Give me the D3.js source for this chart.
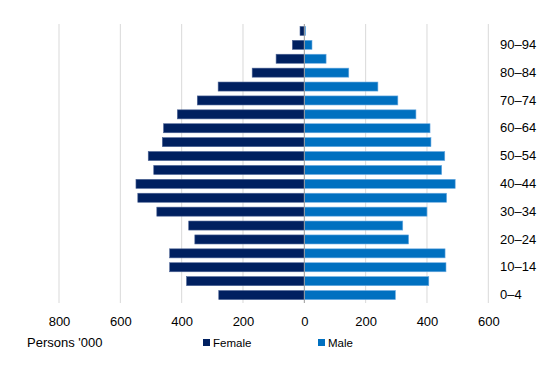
<!DOCTYPE html>
<html>
<head>
<meta charset="utf-8">
<script src="https://cdn.jsdelivr.net/npm/d3@7"></script>
<style>
	body { margin: 0; background: #fff; }
	svg { display: block; font-family: "Liberation Sans", Arial, sans-serif; }
</style>
</head>
<body>
<svg width="550" height="378"></svg>
<script>
const ages = ['0–4', '5–9', '10–14', '15–19', '20–24', '25–29', '30–34', '35–39', '40–44', '45–49',
	'50–54', '55–59', '60–64', '65–69', '70–74', '75–79', '80–84', '85–89', '90–94', '95+'];
const female = [279, 384, 439, 439, 357, 377, 481, 543, 549, 491,
	509, 463, 459, 414, 349, 281, 170, 92, 39, 14];
const male = [297, 406, 462, 459, 340, 321, 400, 464, 492, 448,
	458, 413, 410, 364, 305, 240, 145, 71, 25, 4];
const ageLabels = ['0–4', '10–14', '20–24', '30–34', '40–44', '50–54', '60–64', '70–74', '80–84', '90–94'];
const xTicks = [-800, -600, -400, -200, 0, 200, 400, 600];

const femaleColor = '#002060', maleColor = '#0070c0';

let data = ages.map((a, i) => ({ age: a, female: female[i], male: male[i] }));

let svg = d3.select('svg');

let x = d3.scaleLinear()
	.domain([-800, 600])
	.range([59, 488.3]);

let y = d3.scaleBand()
	.domain(ages.slice().reverse())
	.range([24, 302])
	.paddingInner(0.35)
	.paddingOuter(0.175);

// gridlines
svg.append('g')
	.selectAll('line')
	.data(xTicks.filter(d => d !== 0))
	.join('line')
	.attr('x1', d => x(d)).attr('x2', d => x(d))
	.attr('y1', 24).attr('y2', 303)
	.attr('stroke', '#d9d9d9')
	.attr('stroke-width', 1);

// bars
let bars = svg.append('g');
bars.selectAll('rect.f')
	.data(data)
	.join('rect')
	.attr('class', 'f')
	.attr('x', d => x(-d.female))
	.attr('y', d => y(d.age))
	.attr('width', d => x(0) - x(-d.female))
	.attr('height', y.bandwidth())
	.attr('fill', femaleColor)
	.attr('stroke', '#4d6496')
	.attr('stroke-width', 0.6);

bars.selectAll('rect.m')
	.data(data)
	.join('rect')
	.attr('class', 'm')
	.attr('x', x(0))
	.attr('y', d => y(d.age))
	.attr('width', d => x(d.male) - x(0))
	.attr('height', y.bandwidth())
	.attr('fill', maleColor)
	.attr('stroke', '#6aaae0')
	.attr('stroke-width', 0.6);

// centre axis
svg.append('line')
	.attr('x1', x(0)).attr('x2', x(0))
	.attr('y1', 24).attr('y2', 303)
	.attr('stroke', '#999')
	.attr('stroke-width', 1);

// x axis
let xAxis = svg.append('g')
	.attr('transform', 'translate(0,314)')
	.call(d3.axisBottom(x).tickValues(xTicks).tickSize(0).tickFormat(d => Math.abs(d)));
xAxis.select('.domain').remove();
xAxis.selectAll('text')
	.attr('font-size', 13)
	.attr('font-family', '"Liberation Sans", Arial, sans-serif')
	.attr('fill', '#000');

// age labels on right
let yAxis = svg.append('g')
	.attr('transform', 'translate(500,0)')
	.call(d3.axisRight(y).tickValues(ageLabels).tickSize(0).tickPadding(0));
yAxis.select('.domain').remove();
yAxis.selectAll('text')
	.attr('font-size', 13)
	.attr('font-family', '"Liberation Sans", Arial, sans-serif')
	.attr('fill', '#000');

svg.append('text')
	.attr('x', 27).attr('y', 347)
	.attr('font-size', 13)
	.text("Persons '000");

// legend
let legend = [{ name: 'Female', color: femaleColor, x: 203 }, { name: 'Male', color: maleColor, x: 318 }];
let lg = svg.append('g').selectAll('g')
	.data(legend)
	.join('g')
	.attr('transform', d => `translate(${d.x},339)`);
lg.append('rect')
	.attr('width', 7).attr('height', 7)
	.attr('fill', d => d.color);
lg.append('text')
	.attr('x', 10).attr('y', 7.5)
	.attr('font-size', 11.5)
	.text(d => d.name);
</script>
</body>
</html>
